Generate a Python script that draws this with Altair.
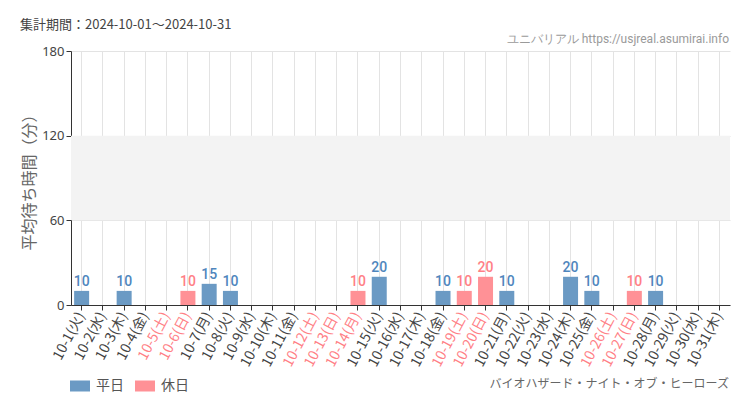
import altair as alt
import pandas as pd

# ---- data ----
days = list(range(1, 32))
weekday_names = ["火", "水", "木", "金", "土", "日", "月"]
labels = [f"10-{d}({weekday_names[(d - 1) % 7]})" for d in days]
holidays = [5, 6, 12, 13, 14, 19, 20, 26, 27]
values = [10, None, 10, None, None, 10, 15, 10, None, None, None, None, None, 10, 20,
          None, None, 10, 10, 20, 10, None, None, 20, 10, None, 10, 10, None, None, None]
types = ["休日" if d in holidays else "平日" for d in days]
holiday_labels = [labels[d - 1] for d in holidays]

y_ticks = [0, 60, 120, 180]
band_lo, band_hi = 60, 120

df = pd.DataFrame({"label": labels, "value": values, "type": types})
bars_df = df.dropna()

W, H = 659, 254
BLUE = "#6b9ac4"
PINK = "#ff9196"
PINK_TXT = "#ff7f86"
BLUE_TXT = "#4f86bd"
COND = "Roboto"

xscale = alt.Scale(domain=labels, paddingInner=0.3, paddingOuter=0.15)
yscale = alt.Scale(domain=[0, 180], nice=False)

label_color_expr = "indexof(" + str(holiday_labels) + ", datum.value) >= 0 ? '#ff7f86' : '#444444'"

band = alt.Chart(pd.DataFrame({"lo": [band_lo], "hi": [band_hi]})).mark_rect(
    color="#f3f3f3"
).encode(
    y=alt.Y("lo:Q", scale=yscale),
    y2="hi:Q",
    x=alt.value(0),
    x2=alt.value(W),
)

bars = alt.Chart(bars_df).mark_bar(size=15).encode(
    x=alt.X("label:N", scale=xscale, sort=labels,
            axis=alt.Axis(title=None, labelAngle=-62, labelFontSize=14,
                          labelColor=alt.expr(label_color_expr),
                          labelFont="Noto Sans CJK JP",
                          tickColor="#333", tickSize=5, domainColor="#333",
                          gridColor="#e3e3e3", grid=True, labelPadding=3)),
    y=alt.Y("value:Q", scale=yscale,
            axis=alt.Axis(values=y_ticks, title="平均待ち時間（分）",
                          titleFontSize=16, titleColor="#666", titleFontWeight="normal",
                          titleFont="Noto Sans CJK JP", titlePadding=4,
                          labelFontSize=13, labelColor="#444", labelFont="Noto Sans",
                          tickColor="#333", tickSize=5, domainColor="#333",
                          gridColor="#e3e3e3", labelPadding=2)),
    color=alt.Color("type:N",
                    scale=alt.Scale(domain=["平日", "休日"], range=[BLUE, PINK]),
                    legend=alt.Legend(title=None, orient="none", legendX=-1, legendY=325,
                                      direction="horizontal",
                                      symbolType="M-1,-0.55H1V0.55H-1Z", symbolSize=400,
                                      symbolStrokeWidth=0, symbolOpacity=1,
                                      labelFontSize=14, labelColor="#555",
                                      labelFont="Noto Sans CJK JP", columnPadding=11,
                                      labelOffset=6)),
)

texts = alt.Chart(bars_df).mark_text(
    dy=-9, fontSize=14, font=COND, fontWeight=500
).encode(
    x=alt.X("label:N", scale=xscale, sort=labels),
    y=alt.Y("value:Q", scale=yscale),
    text=alt.Text("value:Q", format="d"),
    color=alt.Color("type:N", scale=alt.Scale(domain=["平日", "休日"], range=[BLUE_TXT, PINK_TXT]),
                    legend=None),
)

one = pd.DataFrame({"t": ["集計期間：2024-10-01～2024-10-31"]})
title = alt.Chart(one).mark_text(align="left", baseline="middle", fontSize=13,
                                 color="#444", font="Noto Sans CJK JP").encode(
    text="t:N", x=alt.value(-51), y=alt.value(-26))

site = alt.Chart(pd.DataFrame({"t": ["ユニバリアル  https://usjreal.asumirai.info"]})).mark_text(
    align="right", baseline="middle", fontSize=12, color="#9a9a9a",
    font=COND).encode(
    text="t:N", x=alt.value(W - 1), y=alt.value(-12))

attr = alt.Chart(pd.DataFrame({"t": ["バイオハザード・ナイト・オブ・ヒーローズ"]})).mark_text(
    align="right", baseline="middle", fontSize=12, color="#666",
    font="Noto Sans CJK JP").encode(
    text="t:N", x=alt.value(W - 1), y=alt.value(333))

chart = alt.layer(band, bars, texts, title, site, attr).resolve_scale(color="independent").properties(
    width=W, height=H,
    autosize=alt.AutoSizeParams(type="none"),
    padding={"left": 71, "top": 51, "right": 20, "bottom": 105},
    background="#ffffff",
).configure_view(stroke=None).configure_axis(gridWidth=1)

chart.save("out.html", embed_options={"renderer": "svg", "actions": False})
